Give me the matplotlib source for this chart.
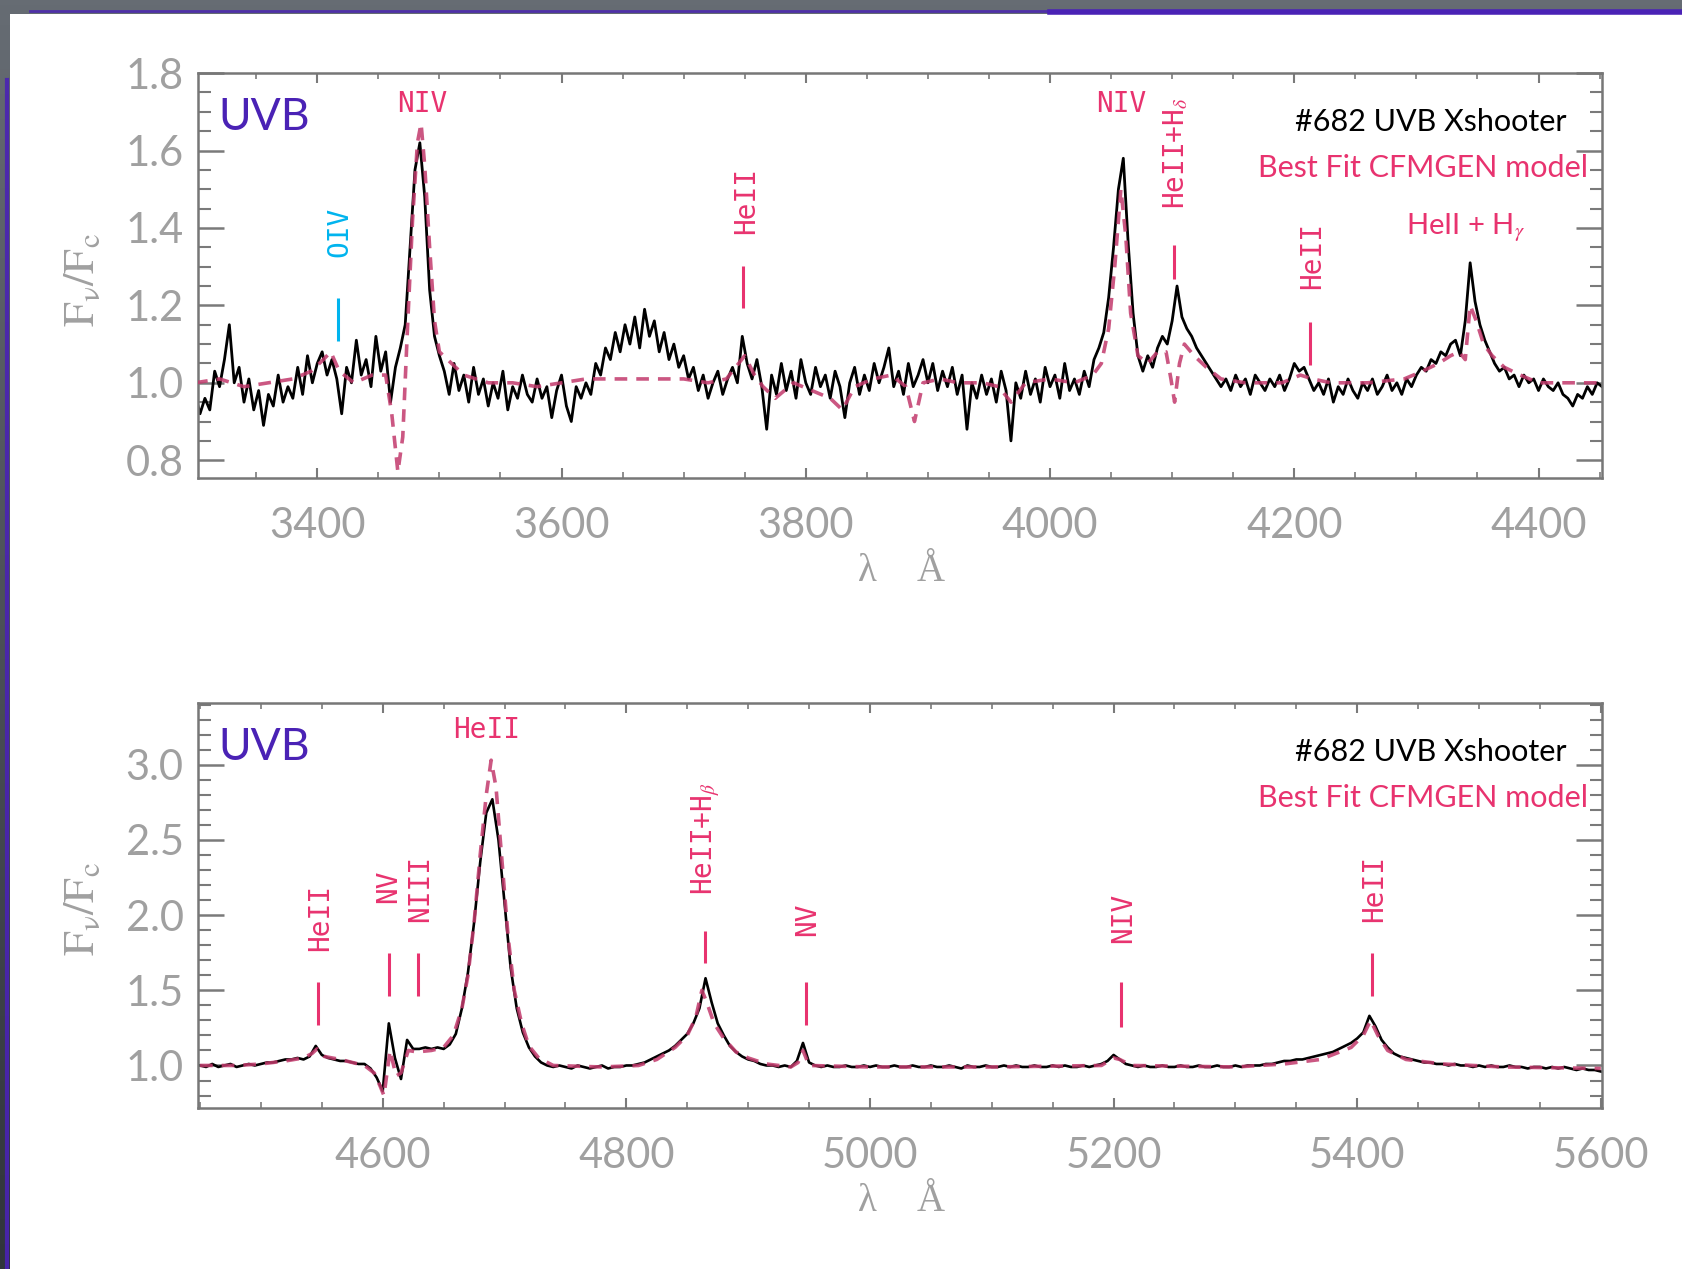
import numpy as np
import matplotlib
matplotlib.use("Agg")
import matplotlib.pyplot as plt
from matplotlib.colors import LinearSegmentedColormap
from matplotlib.patches import Rectangle
from matplotlib.ticker import MultipleLocator, FormatStrFormatter

plt.rcParams['font.family'] = ['Lato', 'DejaVu Sans']
plt.rcParams['mathtext.fontset'] = 'stix'

# ---------------- data ----------------
# blue part, observed spectrum on a 4 A grid starting at 3300 A
obs_blue_start, obs_blue_step = 3300, 4
obs_blue_flux = [
    0.97, 0.92, 0.96, 0.93, 1.03, 0.99, 1.06, 1.15, 1.00, 1.04,
    0.95, 1.01, 0.93, 0.98, 0.89, 0.97, 0.94, 1.02, 0.95, 0.99,
    0.96, 1.04, 0.97, 1.07, 1.00, 1.05, 1.08, 1.02, 1.06, 1.01,
    0.92, 1.04, 1.00, 1.11, 1.02, 1.06, 0.99, 1.12, 1.03, 1.08,
    0.95, 1.04, 1.09, 1.15, 1.35, 1.55, 1.62, 1.48, 1.24, 1.12,
    1.07, 1.03, 0.97, 1.05, 0.98, 1.02, 0.95, 1.04, 0.97, 1.01,
    0.94, 1.00, 0.96, 1.03, 0.93, 0.99, 0.96, 1.02, 0.97, 0.95,
    1.01, 0.96, 0.99, 0.91, 0.98, 1.02, 0.94, 0.90, 0.99, 0.96,
    1.00, 0.97, 1.05, 1.02, 1.09, 1.06, 1.13, 1.08, 1.15, 1.10,
    1.17, 1.09, 1.19, 1.12, 1.16, 1.08, 1.13, 1.06, 1.10, 1.04,
    1.07, 1.01, 1.04, 0.98, 1.02, 0.96, 1.00, 1.03, 0.97, 1.01,
    1.04, 1.00, 1.12, 1.05, 1.01, 1.06, 0.99, 0.88, 1.02, 0.97,
    1.05, 0.98, 1.03, 0.96, 1.06, 1.00, 0.97, 1.04, 0.99, 1.02,
    0.96, 1.03, 0.99, 0.91, 1.00, 1.04, 0.97, 1.02, 0.98, 1.05,
    1.00, 1.04, 1.09, 0.99, 1.03, 0.97, 1.05, 0.99, 1.02, 1.06,
    1.00, 1.05, 0.98, 1.03, 0.99, 1.04, 0.97, 1.02, 0.88, 1.00,
    0.96, 1.02, 0.97, 1.01, 0.95, 1.03, 0.98, 0.85, 1.00, 0.96,
    1.03, 0.97, 1.01, 0.95, 1.04, 0.99, 1.02, 0.96, 1.05, 0.98,
    1.01, 0.97, 1.03, 0.99, 1.06, 1.09, 1.13, 1.22, 1.35, 1.50,
    1.58, 1.36, 1.18, 1.07, 1.03, 1.07, 1.04, 1.09, 1.12, 1.10,
    1.16, 1.25, 1.17, 1.14, 1.12, 1.09, 1.07, 1.05, 1.03, 1.01,
    0.99, 1.01, 0.98, 1.02, 0.99, 1.01, 0.97, 1.02, 1.00, 0.98,
    1.01, 0.99, 1.02, 0.98, 1.01, 1.05, 1.03, 1.04, 1.01, 0.98,
    1.00, 0.97, 1.01, 0.95, 0.99, 0.97, 1.01, 0.98, 0.96, 1.00,
    0.98, 1.01, 0.97, 0.99, 1.02, 0.98, 1.00, 0.97, 1.01, 0.99,
    1.02, 1.04, 1.03, 1.06, 1.05, 1.08, 1.07, 1.10, 1.11, 1.07,
    1.16, 1.31, 1.21, 1.15, 1.11, 1.08, 1.05, 1.03, 1.04, 1.01,
    1.02, 0.99, 1.02, 1.00, 1.01, 0.98, 1.01, 0.99, 0.98, 1.00,
    0.97, 0.96, 0.94, 0.97, 0.96, 0.99, 0.97, 1.00, 0.99,
]

model_blue_wl = [
    3300, 3320, 3340, 3360, 3380, 3395, 3405, 3411, 3418, 3430,
    3445, 3456, 3461, 3466, 3470, 3474, 3478, 3482, 3485, 3488,
    3492, 3496, 3500, 3510, 3520, 3540, 3560, 3580, 3600, 3620,
    3700, 3720, 3735, 3745, 3750, 3758, 3765, 3775, 3790, 3805,
    3820, 3830, 3840, 3855, 3870, 3882, 3889, 3896, 3910, 3925,
    3945, 3958, 3968, 3980, 4000, 4020, 4035, 4042, 4048, 4053,
    4058, 4062, 4066, 4072, 4080, 4088, 4095, 4099, 4102, 4106,
    4110, 4118, 4128, 4140, 4160, 4190, 4205, 4215, 4230, 4260,
    4290, 4305, 4318, 4328, 4335, 4340, 4344, 4349, 4355, 4362,
    4372, 4385, 4400, 4430, 4452,
]
model_blue_flux = [
    1.00, 1.01, 0.99, 1.00, 1.01, 1.03, 1.06, 1.08, 1.03, 1.00,
    1.02, 1.02, 0.92, 0.77, 0.86, 1.15, 1.42, 1.62, 1.67, 1.56,
    1.35, 1.16, 1.08, 1.05, 1.02, 1.00, 1.00, 0.99, 1.00, 1.01,
    1.01, 1.00, 1.01, 1.05, 1.07, 1.02, 0.99, 0.96, 1.00, 0.98,
    0.96, 0.93, 0.99, 1.01, 1.02, 0.99, 0.90, 1.00, 1.01, 1.00,
    1.00, 0.99, 0.95, 1.00, 1.01, 1.00, 1.02, 1.05, 1.14, 1.30,
    1.50, 1.38, 1.18, 1.07, 1.05, 1.08, 1.08, 1.01, 0.95, 1.05,
    1.10, 1.07, 1.04, 1.01, 1.00, 1.00, 1.02, 1.01, 1.00, 1.00,
    1.01, 1.03, 1.05, 1.07, 1.08, 1.06, 1.20, 1.16, 1.10, 1.07,
    1.04, 1.02, 1.00, 1.00, 1.00,
]

# red part, observed spectrum on a 5 A grid starting at 4450 A
obs_red_start, obs_red_step = 4450, 5
obs_red_flux = [
    1.00, 0.99, 1.01, 0.99, 1.00, 1.01, 0.99, 1.00, 1.01, 1.00,
    1.01, 1.02, 1.02, 1.03, 1.04, 1.04, 1.05, 1.04, 1.06, 1.13,
    1.07, 1.05, 1.04, 1.03, 1.03, 1.02, 1.01, 1.01, 0.98, 0.92,
    0.83, 1.28, 1.05, 0.91, 1.17, 1.11, 1.11, 1.12, 1.11, 1.12,
    1.11, 1.14, 1.21, 1.38, 1.62, 1.95, 2.35, 2.68, 2.77, 2.50,
    2.08, 1.65, 1.38, 1.22, 1.12, 1.06, 1.02, 1.00, 0.99, 1.00,
    0.99, 0.98, 1.00, 0.99, 0.98, 0.99, 1.00, 0.98, 0.99, 0.99,
    1.00, 1.00, 1.01, 1.02, 1.04, 1.06, 1.08, 1.10, 1.13, 1.17,
    1.21, 1.28, 1.38, 1.58, 1.42, 1.28, 1.20, 1.13, 1.09, 1.06,
    1.04, 1.03, 1.01, 1.00, 1.00, 0.99, 1.00, 0.99, 1.03, 1.15,
    1.02, 1.00, 0.99, 1.00, 0.99, 0.99, 1.00, 0.99, 0.99, 1.00,
    0.99, 1.00, 0.99, 0.99, 1.00, 0.99, 0.99, 1.00, 0.99, 0.99,
    1.00, 0.99, 0.99, 1.00, 0.99, 0.98, 1.00, 0.99, 0.99, 1.00,
    0.99, 0.99, 1.00, 0.99, 1.00, 0.99, 0.99, 1.00, 0.99, 0.99,
    1.00, 0.99, 1.00, 0.99, 0.99, 1.00, 0.99, 1.00, 1.01, 1.03,
    1.07, 1.04, 1.01, 1.00, 0.99, 1.00, 0.99, 0.99, 1.00, 0.99,
    0.99, 1.00, 0.99, 0.99, 1.00, 0.99, 0.99, 1.00, 0.99, 0.99,
    1.00, 0.99, 1.00, 1.00, 1.00, 1.01, 1.01, 1.02, 1.03, 1.03,
    1.04, 1.04, 1.05, 1.06, 1.07, 1.08, 1.09, 1.11, 1.13, 1.15,
    1.18, 1.22, 1.33, 1.26, 1.17, 1.12, 1.08, 1.06, 1.05, 1.04,
    1.03, 1.02, 1.02, 1.01, 1.01, 1.00, 1.01, 1.00, 1.00, 0.99,
    1.00, 0.99, 1.00, 0.99, 0.99, 1.00, 0.99, 0.99, 0.98, 0.99,
    0.99, 0.98, 0.99, 0.98, 0.99, 0.98, 0.97, 0.98, 0.97, 0.97,
    0.96,
]

model_red_wl = [
    4450, 4480, 4500, 4520, 4535, 4542, 4546, 4552, 4565, 4585,
    4593, 4598, 4601, 4606, 4611, 4615, 4621, 4628, 4640, 4650,
    4658, 4665, 4670, 4675, 4680, 4685, 4689, 4693, 4698, 4703,
    4708, 4714, 4720, 4728, 4740, 4780, 4810, 4825, 4840, 4850,
    4857, 4862, 4866, 4872, 4880, 4890, 4900, 4915, 4935, 4941,
    4945, 4950, 5000, 5100, 5190, 5200, 5205, 5215, 5300, 5340,
    5370, 5395, 5405, 5411, 5417, 5425, 5440, 5470, 5520, 5600,
]
model_red_flux = [
    1.00, 1.00, 1.01, 1.03, 1.05, 1.08, 1.11, 1.06, 1.04, 1.00,
    0.95, 0.86, 0.80, 1.10, 0.93, 0.95, 1.10, 1.09, 1.10, 1.12,
    1.20, 1.38, 1.60, 1.95, 2.40, 2.80, 3.03, 2.85, 2.35, 1.85,
    1.50, 1.28, 1.13, 1.05, 1.00, 0.99, 1.00, 1.04, 1.12, 1.20,
    1.32, 1.50, 1.42, 1.28, 1.18, 1.09, 1.05, 1.01, 0.99, 1.02,
    1.10, 1.00, 0.99, 0.99, 1.00, 1.05, 1.04, 1.00, 0.99, 1.01,
    1.04, 1.12, 1.20, 1.30, 1.20, 1.10, 1.04, 1.01, 0.99, 0.98,
]

obs_blue_wl = obs_blue_start + obs_blue_step * np.arange(len(obs_blue_flux))
obs_red_wl = obs_red_start + obs_red_step * np.arange(len(obs_red_flux))

PINK = '#e8336f'
MODEL = '#c23a6c'
CYAN = '#00b4ee'
PURPLE = '#4a22b5'
GREY = '#a0a0a0'
MONO = ['DejaVu Sans Mono']

# ---------------- figure + slide background ----------------
fig = plt.figure(figsize=(16.83, 12.69), dpi=100)
bg = fig.add_axes([0, 0, 1, 1], zorder=-10)
slate = LinearSegmentedColormap.from_list('slate', ['#30353b', '#666c73'])
bg.imshow(np.linspace(0, 1, 256).reshape(-1, 1), cmap=slate, aspect='auto',
          extent=[0, 1, 0, 1], origin='lower')
bg.add_patch(Rectangle((10 / 1683, 0), 1, 1 - 14 / 1269, color='white', lw=0))
bg.plot([30 / 1683, 1], [1 - 11 / 1269] * 2, color=PURPLE, lw=2, alpha=0.8)
bg.plot([1050 / 1683, 1], [1 - 12 / 1269] * 2, color=PURPLE, lw=4)
bg.plot([7 / 1683] * 2, [0, 1 - 80 / 1269], color=PURPLE, lw=3, alpha=0.9)
bg.set_xlim(0, 1)
bg.set_ylim(0, 1)
bg.axis('off')

ax1 = fig.add_axes([0.1174, 0.6236, 0.8345, 0.3188])
ax2 = fig.add_axes([0.1174, 0.1272, 0.8345, 0.3188])


def style_axes(ax, ymaj, ymin):
    ax.set_facecolor('none')
    for sp in ax.spines.values():
        sp.set_color('#777777')
        sp.set_linewidth(1.8)
    ax.xaxis.set_major_locator(MultipleLocator(200))
    ax.xaxis.set_minor_locator(MultipleLocator(50))
    ax.yaxis.set_major_locator(MultipleLocator(ymaj))
    ax.yaxis.set_minor_locator(MultipleLocator(ymin))
    ax.yaxis.set_major_formatter(FormatStrFormatter('%.1f'))
    ax.tick_params(which='both', direction='in', top=True, right=True,
                   color='#7a7a7a', labelcolor=GREY, labelsize=30)
    ax.tick_params(axis='x', which='major', length=7, width=1.5, pad=21)
    ax.tick_params(axis='x', which='minor', length=4, width=1.2)
    ax.tick_params(axis='y', which='major', length=19, width=1.8, pad=10)
    ax.tick_params(axis='y', which='minor', length=9, width=1.5)
    # axis titles
    ax.text(-0.083, 0.49, r'$\mathrm{F_{\nu}/F_{c}}$', rotation=90,
            transform=ax.transAxes, ha='center', va='center', fontsize=32,
            color=GREY)
    ax.text(0.4767, -0.231, 'λ', transform=ax.transAxes, ha='center',
            va='center', fontsize=28, color=GREY,
            family=['Liberation Serif', 'DejaVu Serif'])
    ax.text(0.5218, -0.231, 'Å', transform=ax.transAxes, ha='center',
            va='center', fontsize=28, color=GREY,
            family=['Liberation Serif', 'DejaVu Serif'])
    ax.text(0.0145, 0.89, 'UVB', transform=ax.transAxes, ha='left',
            va='center', fontsize=32, color=PURPLE)
    ax.text(0.975, 0.88, '#682 UVB Xshooter', transform=ax.transAxes,
            ha='right', va='center', fontsize=22, color='black')
    ax.text(0.99, 0.765, 'Best Fit CFMGEN model', transform=ax.transAxes,
            ha='right', va='center', fontsize=22, color=PINK)


def mark(ax, wl, y0, y1, color=PINK):
    ax.plot([wl, wl], [y0, y1], color=color, lw=2.2, solid_capstyle='butt')


def vlabel(ax, wl, y, text, color=PINK):
    ax.text(wl, y, text, rotation=90, ha='center', va='center', fontsize=20,
            color=color, family=MONO)


# ---------------- top panel ----------------
ax1.plot(obs_blue_wl, obs_blue_flux, color='black', lw=2.0, zorder=2)
ax1.plot(model_blue_wl, model_blue_flux, color=MODEL, lw=2.6,
         dashes=(3.5, 2.5), alpha=0.85, zorder=3)
ax1.set_xlim(3302, 4452)
ax1.set_ylim(0.755, 1.80)
style_axes(ax1, 0.2, 0.05)

vlabel(ax1, 3418, 1.389, 'OIV', CYAN)
mark(ax1, 3417, 1.108, 1.219, CYAN)
ax1.text(3486, 1.719, 'NIV', ha='center', va='center', fontsize=20,
         color=PINK, family=MONO)
vlabel(ax1, 3751, 1.472, 'HeII')
mark(ax1, 3749, 1.192, 1.303)
ax1.text(4058.6, 1.719, 'NIV', ha='center', va='center', fontsize=20,
         color=PINK, family=MONO)
vlabel(ax1, 4103.5, 1.594, r'HeII+H$_\delta$')
mark(ax1, 4101.8, 1.269, 1.356)
vlabel(ax1, 4214.5, 1.328, 'HeII')
mark(ax1, 4212.8, 1.047, 1.158)
ax1.text(4340.5, 1.40, r'HeII + H$_\gamma$', ha='center', va='center',
         fontsize=21, color=PINK)

# ---------------- bottom panel ----------------
ax2.plot(obs_red_wl, obs_red_flux, color='black', lw=1.9, zorder=2)
ax2.plot(model_red_wl, model_red_flux, color=MODEL, lw=2.6,
         dashes=(3.5, 2.5), alpha=0.85, zorder=3)
ax2.set_xlim(4448, 5601)
ax2.set_ylim(0.72, 3.41)
style_axes(ax2, 0.5, 0.1)

ax2.text(4685, 3.229, 'HeII', ha='center', va='center', fontsize=20,
         color=PINK, family=MONO)
vlabel(ax2, 4548.4, 1.986, 'HeII')
mark(ax2, 4546.7, 1.271, 1.557)
vlabel(ax2, 4604.8, 2.193, 'NV')
mark(ax2, 4604.8, 1.464, 1.75)
vlabel(ax2, 4630.4, 2.179, 'NIII')
mark(ax2, 4628.6, 1.464, 1.75)
vlabel(ax2, 4865.6, 2.507, r'HeII+H$_\beta$')
mark(ax2, 4864.7, 1.679, 1.893)
vlabel(ax2, 4948.4, 1.971, 'NV')
mark(ax2, 4947.6, 1.271, 1.557)
vlabel(ax2, 5207.5, 1.979, 'NIV')
mark(ax2, 5205.7, 1.257, 1.557)
vlabel(ax2, 5413.6, 2.179, 'HeII')
mark(ax2, 5411.9, 1.464, 1.75)

fig.savefig('out.png', dpi=100)
